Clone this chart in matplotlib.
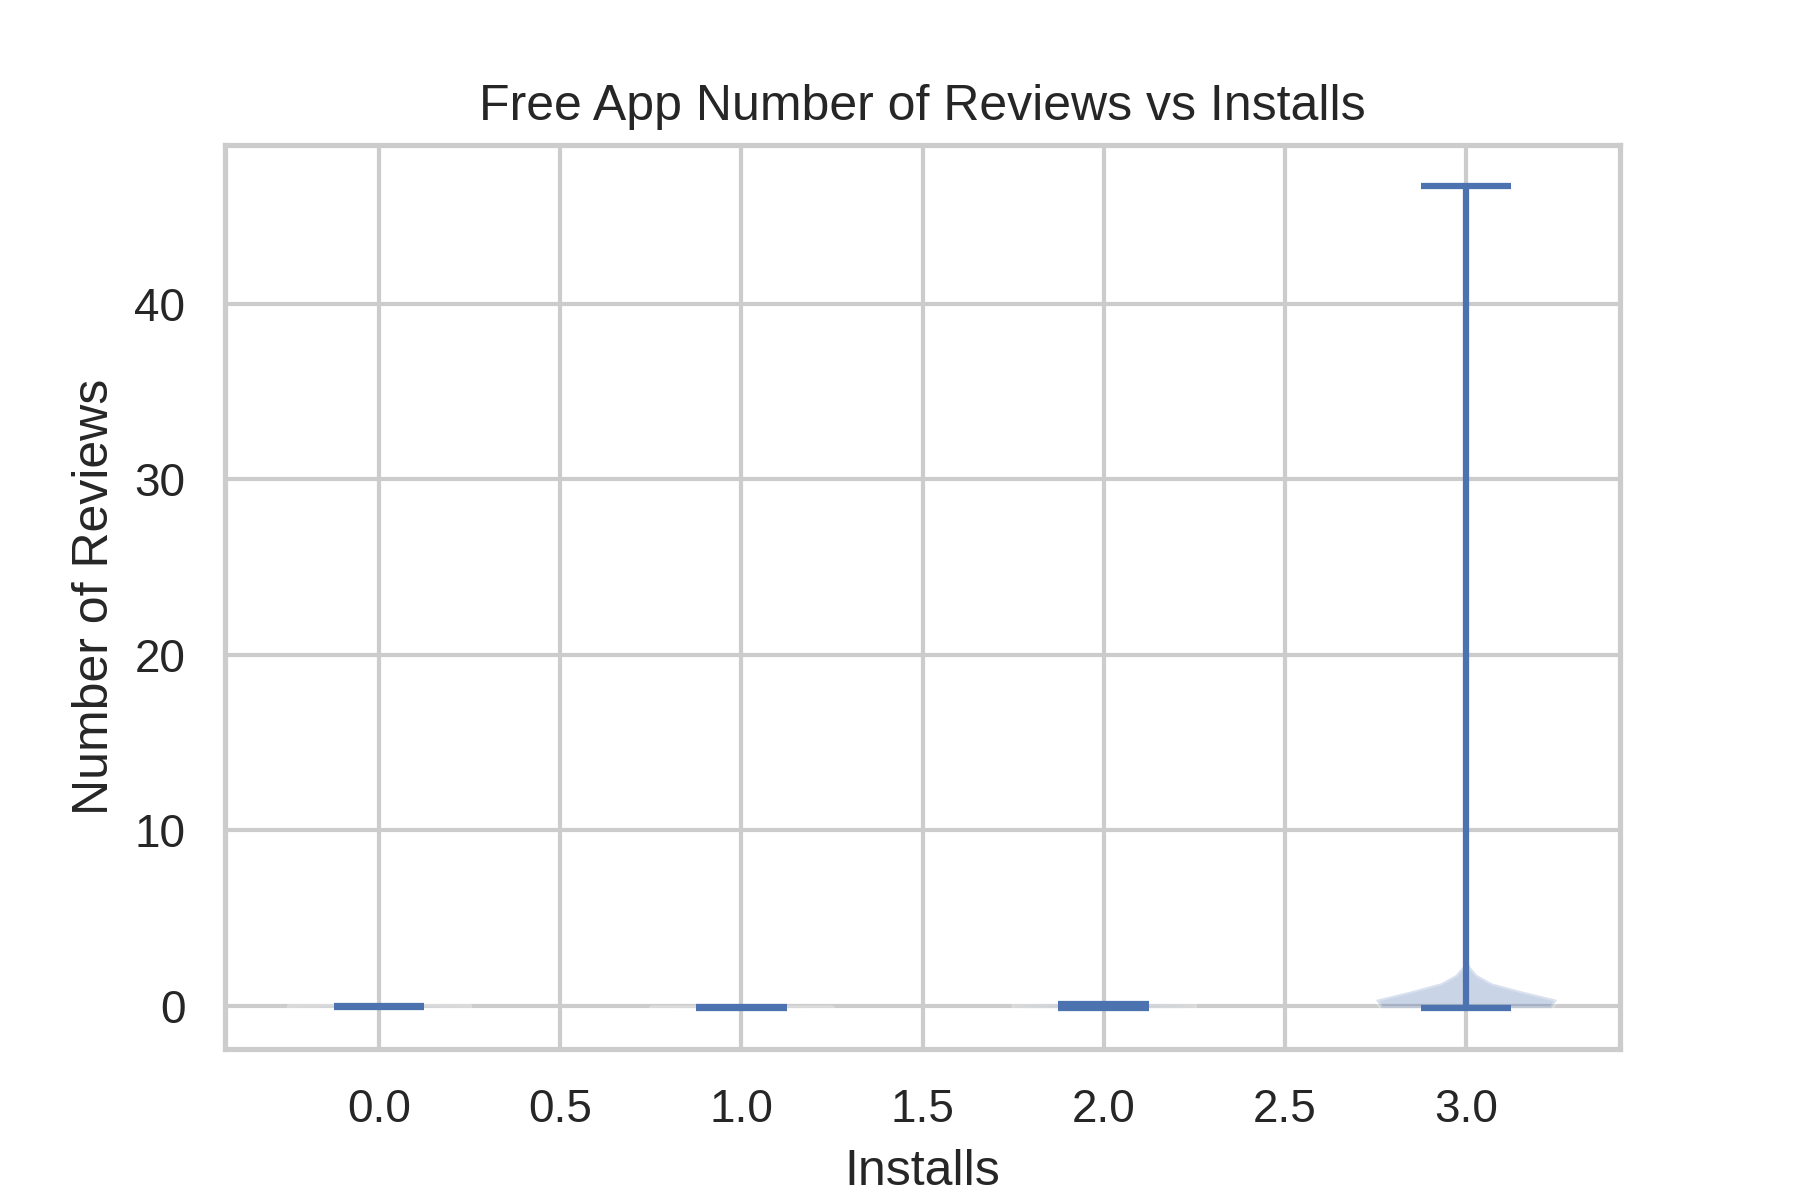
import numpy as np
import matplotlib
matplotlib.use("Agg")
import matplotlib.pyplot as plt
import seaborn as sns

sns.set_theme(style="whitegrid")
plt.rcParams['font.family'] = ['Liberation Sans', 'DejaVu Sans']

# Reviews (millions) per install group
group0 = [-0.10, -0.08, -0.06, -0.04, -0.02, 0.0]
group1 = [-0.12, -0.115, -0.11, -0.105, -0.10]
group2 = [-0.12, -0.08, -0.04, 0.0, 0.04, 0.08, 0.12]
group3 = [-0.12, -0.1, -0.08, -0.05, -0.03, -0.02, 0.0, 0.0, 0.0, 0.01,
          0.02, 0.03, 0.04, 0.05, 0.05, 0.06, 0.08, 0.1, 0.1, 0.12,
          0.14, 0.15, 0.18, 0.2, 0.22, 0.25, 0.28, 0.3, 0.35, 0.4,
          0.45, 0.5, 0.6, 0.7, 0.8, 1.0, 1.2, 1.4, 1.7, 46.7]
groups = [group0, group1, group2, group3]
positions = [0, 1, 2, 3]

# kernel width about 0.55 reviews in the big group
bw = 0.55 / np.std(group3, ddof=1)

fig, ax = plt.subplots(figsize=(6, 4), dpi=300)
ax.violinplot(groups, positions=positions, bw_method=bw)
ax.set_title("Free App Number of Reviews vs Installs")
ax.set_xlabel("Installs")
ax.set_ylabel("Number of Reviews")
plt.subplots_adjust(left=0.125, right=0.9, bottom=0.126, top=0.879)
plt.savefig("out.png", dpi=300)
